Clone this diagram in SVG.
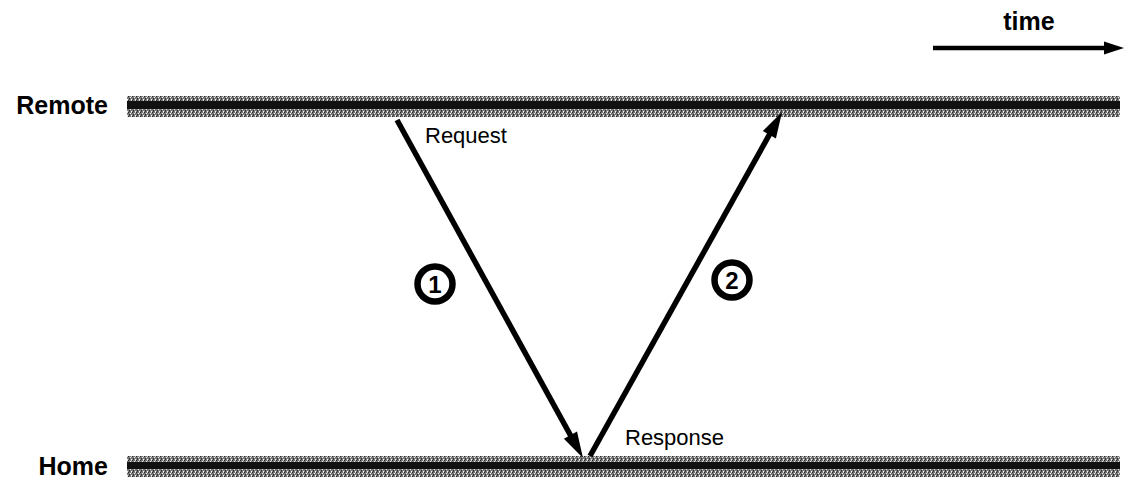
<svg xmlns="http://www.w3.org/2000/svg" width="1126" height="479" viewBox="0 0 1126 479">
  <style>
    .label { font-family: "Liberation Sans", Arial, sans-serif; fill: #000; }
    .big { font-size: 25px; font-weight: bold; }
    .small { font-size: 22px; }
    .num { font-size: 24px; font-weight: bold; }
    .arrow { stroke: #000; stroke-width: 5.5; fill: none; }
    .circ { stroke: #000; stroke-width: 6.5; fill: #fff; }
  </style>
  <defs>
    <pattern id="dither" width="4" height="4" patternUnits="userSpaceOnUse">
      <rect width="4" height="4" fill="#7a7a7a"/>
      <rect x="0" y="0" width="1" height="1" fill="#222"/>
      <rect x="2" y="1" width="1" height="1" fill="#e6e6e6"/>
      <rect x="1" y="2" width="1" height="1" fill="#333"/>
      <rect x="3" y="3" width="1" height="1" fill="#f4f4f4"/>
      <rect x="3" y="0" width="1" height="1" fill="#cfcfcf"/>
      <rect x="1" y="3" width="1" height="1" fill="#444"/>
    </pattern>
    <marker id="head" markerUnits="userSpaceOnUse" markerWidth="26" markerHeight="15" refX="14" refY="7.5" orient="auto" overflow="visible">
      <path d="M0,0 L26,7.5 L0,15 z" fill="#000"/>
    </marker>
    <marker id="headT" markerUnits="userSpaceOnUse" markerWidth="20" markerHeight="13" refX="6" refY="6.5" orient="auto" overflow="visible">
      <path d="M0,0 L20,6.5 L0,13 z" fill="#000"/>
    </marker>
  </defs>

  <g id="remote">
    <rect x="127" y="96" width="993" height="21" fill="url(#dither)"/>
    <rect x="127" y="101" width="993" height="8" fill="#111"/>
    <text class="label big" x="108" y="114" text-anchor="end">Remote</text>
  </g>

  <g id="home">
    <rect x="127" y="456" width="993" height="21" fill="url(#dither)"/>
    <rect x="127" y="462" width="993" height="7" fill="#111"/>
    <text class="label big" x="108" y="475" text-anchor="end">Home</text>
  </g>

  <g id="time">
    <text class="label big" x="1029" y="30" text-anchor="middle">time</text>
  </g>

  <g id="connectors">
    <line class="arrow" x1="933" y1="48" x2="1110" y2="48" marker-end="url(#headT)" style="stroke-width:4.5"/>
    <line class="arrow" x1="397" y1="120" x2="577.2" y2="447.5" marker-end="url(#head)"/>
    <line class="arrow" x1="590" y1="456" x2="776.2" y2="122.5" marker-end="url(#head)"/>
  </g>

  <g id="request">
    <text class="label small" x="425" y="143">Request</text>
  </g>
  <g id="response">
    <text class="label small" x="625" y="445">Response</text>
  </g>

  <g id="step1">
    <circle class="circ" cx="435" cy="284" r="17.5"/>
    <text class="label num" x="435" y="292.5" text-anchor="middle">1</text>
  </g>
  <g id="step2">
    <circle class="circ" cx="732" cy="280" r="17.5"/>
    <text class="label num" x="732" y="288.5" text-anchor="middle">2</text>
  </g>
</svg>
